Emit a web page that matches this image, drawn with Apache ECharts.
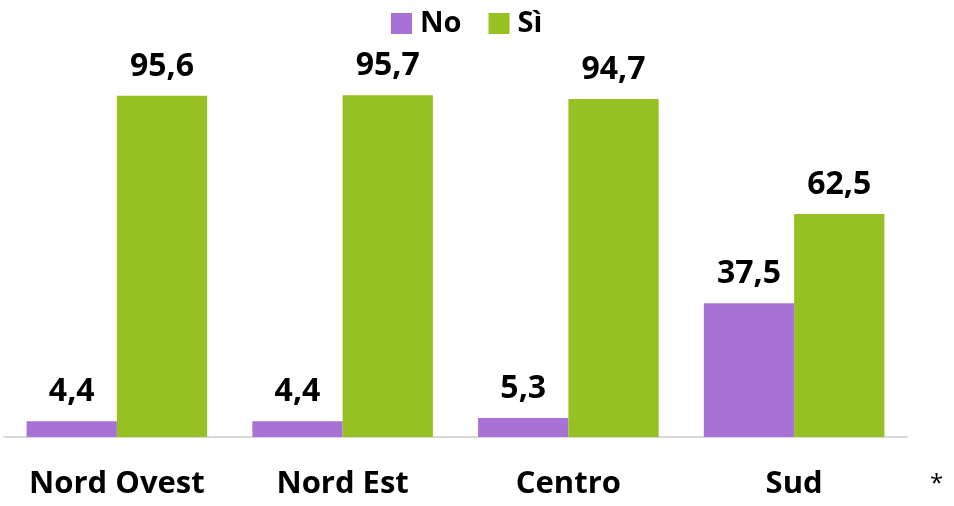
<!DOCTYPE html>
<html><head><meta charset="utf-8">
<script src="https://cdn.jsdelivr.net/npm/echarts@6/dist/echarts.min.js"></script>
<style>html,body{margin:0;padding:0;background:#fff}#c{width:954px;height:506px}</style>
</head><body><div id="c"></div>
<script>
const categories = ['Nord Ovest', 'Nord Est', 'Centro', 'Sud'];
const seriesNames = ['No', 'Sì'];
const noValues = [4.4, 4.4, 5.3, 37.5];
const siValues = [95.6, 95.7, 94.7, 62.5];
const colors = ['#a871d6', '#97c122'];
const font = '"Open Sans", sans-serif';

const chart = echarts.init(document.getElementById('c'));
const label = {
  show: true, position: 'top', distance: 13, color: '#000', fontFamily: font,
  fontWeight: 'bold', fontSize: 32,
  formatter: p => String(p.value).replace('.', ',')
};
chart.setOption({
  animation: false,
  legend: {
    top: 4, left: 386, itemWidth: 21, itemHeight: 21, itemGap: 27,
    icon: 'rect',
    textStyle: { fontFamily: font, fontWeight: 'bold', fontSize: 29, color: '#000', padding: [0,0,0,3] },
    data: seriesNames
  },
  grid: { left: 4, right: 47, top: 80, bottom: 69, containLabel: false },
  xAxis: {
    type: 'category', data: categories,
    axisLine: { lineStyle: { color: '#d9d9d9', width: 2 } },
    axisTick: { show: false },
    axisLabel: { color: '#000', fontFamily: font, fontWeight: 'bold', fontSize: 31, margin: 32, interval: 0 }
  },
  yAxis: { type: 'value', min: 0, max: 100, show: false, splitLine: { show: false } },
  series: [
    { name: seriesNames[0], type: 'bar', data: noValues, itemStyle: { color: colors[0] },
      barGap: '0%', barCategoryGap: '20%', label },
    { name: seriesNames[1], type: 'bar', data: siValues, itemStyle: { color: colors[1] }, label }
  ],
  graphic: [{ type: 'text', left: 930, top: 472, style: { text: '*', fontSize: 24, fontFamily: font, fill: '#000' } }]
});
</script></body></html>
